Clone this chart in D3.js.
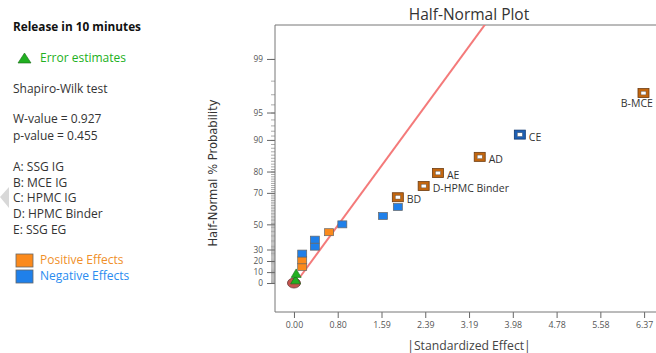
<!DOCTYPE html>
<html>
<head>
<meta charset="utf-8">
<script src="https://cdn.jsdelivr.net/npm/d3@7"></script>
<style>
  html, body { margin: 0; padding: 0; background: #fff; }
  svg { display: block; font-family: "Open Sans", "Noto Sans", sans-serif; }
</style>
</head>
<body>
<div id="chart"></div>
<script>
// values, ordered by half-normal rank
let halfNormalPct = [2.9, 8.8, 14.7, 20.6, 26.5, 32.4, 38.2, 44.1, 50.0, 55.9, 61.8, 67.6, 73.5, 79.4, 85.3, 91.2, 97.1]
let effectAbs = [0.03, 0.04, 0.15, 0.15, 0.15, 0.38, 0.38, 0.64, 0.88, 1.62, 1.89, 1.89, 2.36, 2.62, 3.38, 4.11, 6.36]
let effectKinds = ["error", "error", "pos", "pos", "neg", "neg", "neg", "pos", "neg", "neg", "neg", "pos", "pos", "pos", "pos", "neg", "pos"]
let effectLabels = ["", "", "", "", "", "", "", "", "", "", "", "BD", "D-HPMC Binder", "AE", "AD", "CE", "B-MCE IG"]

let xTickValues = [0, 0.796, 1.593, 2.389, 3.186, 3.982, 4.779, 5.575, 6.371]
let xTickLabels = ["0.00", "0.80", "1.59", "2.39", "3.19", "3.98", "4.78", "5.58", "6.37"]
let yTickLabels = [0, 10, 20, 30, 50, 70, 80, 90, 95, 99]

let factorNames = ["A: SSG IG", "B: MCE IG", "C: HPMC IG", "D: HPMC Binder", "E: SSG EG"]
let wValue = "0.927"
let pValue = "0.455"

// reference line |effect| = lineIntercept + lineSlope * z
let lineIntercept = 0.03
let lineSlope = 1.16
let lineStartPct = 5.5

let orange = "#fb8a1c", blue = "#1f80ea", green = "#21b021"

// inverse normal cdf (Acklam)
function qnorm(p) {
    let a = [-39.69683028665376, 220.9460984245205, -275.9285104469687, 138.3577518672690, -30.66479806614716, 2.506628277459239]
    let b = [-54.47609879822406, 161.5858368580409, -155.6989798598866, 66.80131188771972, -13.28068155288572]
    let c = [-0.007784894002430293, -0.3223964580411365, -2.400758277161838, -2.549732539343734, 4.374664141464968, 2.938163982698783]
    let d = [0.007784695709041462, 0.3224671290700398, 2.445134137142996, 3.754408661907416]
    let pl = 0.02425, q, r
    if (p < pl) {
        q = Math.sqrt(-2 * Math.log(p))
        return (((((c[0]*q+c[1])*q+c[2])*q+c[3])*q+c[4])*q+c[5]) / ((((d[0]*q+d[1])*q+d[2])*q+d[3])*q+1)
    } else if (p <= 1 - pl) {
        q = p - 0.5; r = q * q
        return (((((a[0]*r+a[1])*r+a[2])*r+a[3])*r+a[4])*r+a[5])*q / (((((b[0]*r+b[1])*r+b[2])*r+b[3])*r+b[4])*r+1)
    }
    q = Math.sqrt(-2 * Math.log(1 - p))
    return -(((((c[0]*q+c[1])*q+c[2])*q+c[3])*q+c[4])*q+c[5]) / ((((d[0]*q+d[1])*q+d[2])*q+d[3])*q+1)
}
// half-normal percentile -> z
function hz(pct) { return pct <= 0 ? 0 : qnorm(0.5 + pct / 200) }

let width = 656, height = 353
let svg = d3.select("#chart").append("svg").attr("width", width).attr("height", height)

let frame = { left: 275, right: 663, top: 25, bottom: 312 }
let x = d3.scaleLinear().domain([-0.345, 6.715]).range([frame.left, frame.right])
let y = d3.scaleLinear().domain([-0.333, 2.966]).range([frame.bottom, frame.top])

// ---- left info panel
let txt = "#333", fs = 12
svg.append("text").attr("x", 13).attr("y", 31).attr("font-size", 11.8).attr("font-weight", "bold").attr("fill", "#111").text("Release in 10 minutes")
svg.append("path").attr("d", "M18,63 L24.5,53 L31,63 Z").attr("fill", green).attr("stroke", "#1a6a1a").attr("stroke-width", 0.6)
svg.append("text").attr("x", 40).attr("y", 62).attr("font-size", fs).attr("fill", green).text("Error estimates")
svg.append("text").attr("x", 13).attr("y", 93).attr("font-size", fs).attr("fill", txt).text("Shapiro-Wilk test")
svg.append("text").attr("x", 13).attr("y", 123).attr("font-size", fs).attr("fill", txt).text("W-value = " + wValue)
svg.append("text").attr("x", 13).attr("y", 140).attr("font-size", fs).attr("fill", txt).text("p-value = " + pValue)
svg.selectAll(".factor").data(factorNames).enter().append("text")
    .attr("class", "factor")
    .attr("x", 13).attr("y", function(d, i) { return 171 + i * 15.7 })
    .attr("font-size", fs).attr("fill", txt).text(function(d) { return d })

let legendItems = [{ label: "Positive Effects", color: orange, text: "#f0902a" }, { label: "Negative Effects", color: blue, text: "#2a8cf0" }]
let legend = svg.selectAll(".legend").data(legendItems).enter().append("g")
    .attr("class", "legend")
    .attr("transform", function(d, i) { return "translate(16," + (254 + i * 16) + ")" })
legend.append("rect").attr("width", 17).attr("height", 13).attr("fill", function(d) { return d.color }).attr("stroke", "#666").attr("stroke-width", 0.8)
legend.append("text").attr("x", 24).attr("y", 10).attr("font-size", fs).attr("fill", function(d) { return d.text }).text(function(d) { return d.label })

// little collapse arrow at the left edge
svg.append("path").attr("d", "M0,197 L9,187 L9,208 Z").attr("fill", "#d8d8d8")

// ---- title and axis labels
svg.append("text").attr("x", 469).attr("y", 20).attr("text-anchor", "middle").attr("font-size", 15.5).attr("fill", "#333").text("Half-Normal Plot")
svg.append("text").attr("x", 469).attr("y", 350).attr("text-anchor", "middle").attr("font-size", 12.2).attr("fill", "#444").text("|Standardized Effect|")
svg.append("text").attr("transform", "translate(217,173) rotate(-90)").attr("text-anchor", "middle")
    .attr("font-size", 12.8).attr("font-family", "'Liberation Sans Narrow', 'DejaVu Sans Condensed', sans-serif")
    .attr("fill", "#333").text("Half-Normal % Probability")

// ---- axes
let xAxis = d3.axisBottom(x).tickValues(xTickValues).tickSize(6).tickPadding(4)
    .tickFormat(function(d, i) { return xTickLabels[i] })
let gx = svg.append("g").attr("transform", "translate(0," + frame.bottom + ")").call(xAxis)
gx.select(".domain").remove()
gx.selectAll("line").attr("stroke", "#666")
gx.selectAll("text").attr("font-size", 8.8).attr("fill", "#555").attr("font-family", "'Open Sans', sans-serif")

let minorPct = d3.range(1, 100)
let yMinor = d3.axisLeft(y).tickValues(minorPct.map(hz)).tickSize(4).tickFormat("")
let gym = svg.append("g").attr("transform", "translate(" + frame.left + ",0)").call(yMinor)
gym.select(".domain").remove()
gym.selectAll("line").attr("stroke", "#888").attr("stroke-width", 0.7)

let yAxis = d3.axisLeft(y).tickValues(yTickLabels.map(hz)).tickSize(8).tickPadding(4)
    .tickFormat(function(d, i) { return yTickLabels[i] })
let gy = svg.append("g").attr("transform", "translate(" + frame.left + ",0)").call(yAxis)
gy.select(".domain").remove()
gy.selectAll("line").attr("stroke", "#666")
gy.selectAll("text").attr("font-size", 8.3).attr("fill", "#555").attr("font-family", "'Open Sans', sans-serif")

// frame (right side is outside the picture)
svg.append("path")
    .attr("d", "M" + frame.right + "," + frame.top + "H" + frame.left + "V" + frame.bottom + "H" + frame.right)
    .attr("fill", "none").attr("stroke", "#777").attr("stroke-width", 1)

// ---- plot area
let plot = svg.append("g")
svg.append("clipPath").attr("id", "clip").append("rect")
    .attr("x", frame.left).attr("y", frame.top).attr("width", frame.right - frame.left).attr("height", frame.bottom - frame.top)

// reference line
let zLine = [hz(lineStartPct), y.domain()[1] + 0.2]
plot.append("line").attr("clip-path", "url(#clip)")
    .attr("x1", x(lineIntercept + lineSlope * zLine[0])).attr("y1", y(zLine[0]))
    .attr("x2", x(lineIntercept + lineSlope * zLine[1])).attr("y2", y(zLine[1]))
    .attr("stroke", "#f47a7a").attr("stroke-width", 2)

// zero marker
plot.append("ellipse").attr("cx", x(0)).attr("cy", y(0)).attr("rx", 6.5).attr("ry", 5)
    .attr("fill", "#c4554e").attr("stroke", "#6a3a3a").attr("stroke-width", 0.8)

let points = halfNormalPct.map(function(p, i) {
    return { z: hz(p), v: effectAbs[i], kind: effectKinds[i], label: effectLabels[i] }
})

// error estimates
plot.selectAll(".err").data(points.filter(function(d) { return d.kind === "error" })).enter().append("path")
    .attr("class", "err")
    .attr("d", function(d) {
        let cx = x(d.v), cy = y(d.z)
        return "M" + (cx - 5) + "," + (cy + 4) + "L" + cx + "," + (cy - 4.5) + "L" + (cx + 5) + "," + (cy + 4) + "Z"
    })
    .attr("fill", green).attr("stroke", "#1a6a1a").attr("stroke-width", 0.6)

// plain effects
plot.selectAll(".eff").data(points.filter(function(d) { return d.kind !== "error" && d.label === "" })).enter().append("rect")
    .attr("class", "eff")
    .attr("x", function(d) { return x(d.v) - 4.5 }).attr("y", function(d) { return y(d.z) - 3.5 })
    .attr("width", 9).attr("height", 7)
    .attr("fill", function(d) { return d.kind === "pos" ? orange : blue })
    .attr("stroke", "#666").attr("stroke-width", 0.7)

// labelled (selected) effects
let sel = plot.selectAll(".sel").data(points.filter(function(d) { return d.label !== "" })).enter().append("g")
    .attr("class", "sel")
    .attr("transform", function(d) { return "translate(" + x(d.v) + "," + y(d.z) + ")" })
sel.append("rect").attr("x", -5.5).attr("y", -4.5).attr("width", 11).attr("height", 9)
    .attr("fill", function(d) { return d.kind === "pos" ? "#c2660f" : "#1d5fb4" })
    .attr("stroke", function(d) { return d.kind === "pos" ? "#6e3c10" : "#123a70" }).attr("stroke-width", 0.8)
sel.append("rect").attr("x", -2.5).attr("y", -1.8).attr("width", 5).attr("height", 3.6)
    .attr("fill", "#fff").attr("stroke", "#555").attr("stroke-width", 0.4)
sel.append("text")
    .attr("x", function(d) { return d.v > 6 ? 0 : 9 })
    .attr("y", function(d) { return d.v > 6 ? 14 : 6 })
    .attr("text-anchor", function(d) { return d.v > 6 ? "middle" : "start" })
    .attr("font-size", 10.5).attr("fill", "#333")
    .text(function(d) { return d.label })
</script>
</body>
</html>
